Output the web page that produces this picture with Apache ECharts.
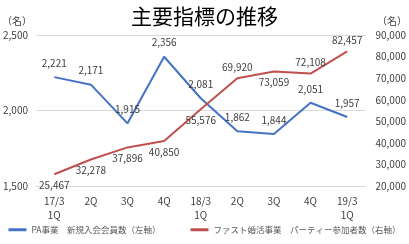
<!DOCTYPE html>
<html><head><meta charset="utf-8">
<script src="https://cdn.jsdelivr.net/npm/echarts@6/dist/echarts.min.js"></script>
<style>html,body{margin:0;padding:0;background:#fff}#c{width:409px;height:244px}</style>
</head><body><div id="c"></div>
<script>
const categories = ['17/3\n1Q','2Q','3Q','4Q','18/3\n1Q','2Q','3Q','4Q','19/3\n1Q'];
const paMembers = [2221,2171,1915,2356,2081,1862,1844,2051,1957];
const partyParticipants = [25467,32278,37896,40850,55576,69920,73059,72108,82457];
const partyLabelPos = ['bottom','bottom','bottom','bottom','bottom','top','bottom','top','top'];
const seriesNames = ['PA事業　新規入会会員数（左軸）','ファスト婚活事業　パーティー参加者数（右軸）'];
const fmt = v => v.toLocaleString('en-US');
const font = '"Noto Sans CJK JP", sans-serif';
const chart = echarts.init(document.getElementById('c'));
chart.setOption({
  animation:false,
  textStyle:{fontFamily:font},
  title:{text:'主要指標の推移',left:'center',top:1,textStyle:{fontSize:21,fontWeight:'normal',color:'#000',fontFamily:font}},
  legend:{bottom:5,left:'center',itemWidth:18,itemHeight:3,itemGap:30,icon:'rect',
    textStyle:{fontSize:8.5,color:'#595959',fontFamily:font},data:seriesNames},
  grid:{left:33,right:43,top:35,bottom:58},
  graphic:[
    {type:'text',left:2,top:16,style:{text:'（名）',fontSize:10,fill:'#404040',fontFamily:font}},
    {type:'text',right:2,top:16,style:{text:'（名）',fontSize:10,fill:'#404040',fontFamily:font}}
  ],
  xAxis:{type:'category',data:categories,boundaryGap:true,
    axisLine:{show:false},axisTick:{show:false},
    axisLabel:{fontSize:10,color:'#404040',lineHeight:14,margin:8,interval:0}},
  yAxis:[
    {type:'value',min:1500,max:2500,interval:500,
      axisLabel:{formatter:fmt,fontSize:10,color:'#404040',margin:8},
      splitLine:{lineStyle:{color:'#d9d9d9'}},axisLine:{show:false},axisTick:{show:false}},
    {type:'value',min:20000,max:90000,interval:10000,
      axisLabel:{formatter:fmt,fontSize:10,color:'#404040',margin:10},
      splitLine:{show:false},axisLine:{show:false},axisTick:{show:false}}
  ],
  series:[
    {name:seriesNames[0],type:'line',yAxisIndex:0,data:paMembers,symbol:'circle',symbolSize:0.1,showSymbol:true,
      lineStyle:{color:'#4472C4',width:2},itemStyle:{color:'#4472C4'},
      label:{show:true,position:'top',distance:9,formatter:p=>fmt(p.value),fontSize:10,color:'#404040'}},
    {name:seriesNames[1],type:'line',yAxisIndex:1,symbol:'circle',symbolSize:0.1,showSymbol:true,
      data:partyParticipants.map((v,i)=>({value:v,label:{position:partyLabelPos[i]}})),
      lineStyle:{color:'#C0504D',width:2},itemStyle:{color:'#C0504D'},
      label:{show:true,distance:6,formatter:p=>fmt(p.value),fontSize:10,color:'#404040'}}
  ]
});
</script></body></html>
